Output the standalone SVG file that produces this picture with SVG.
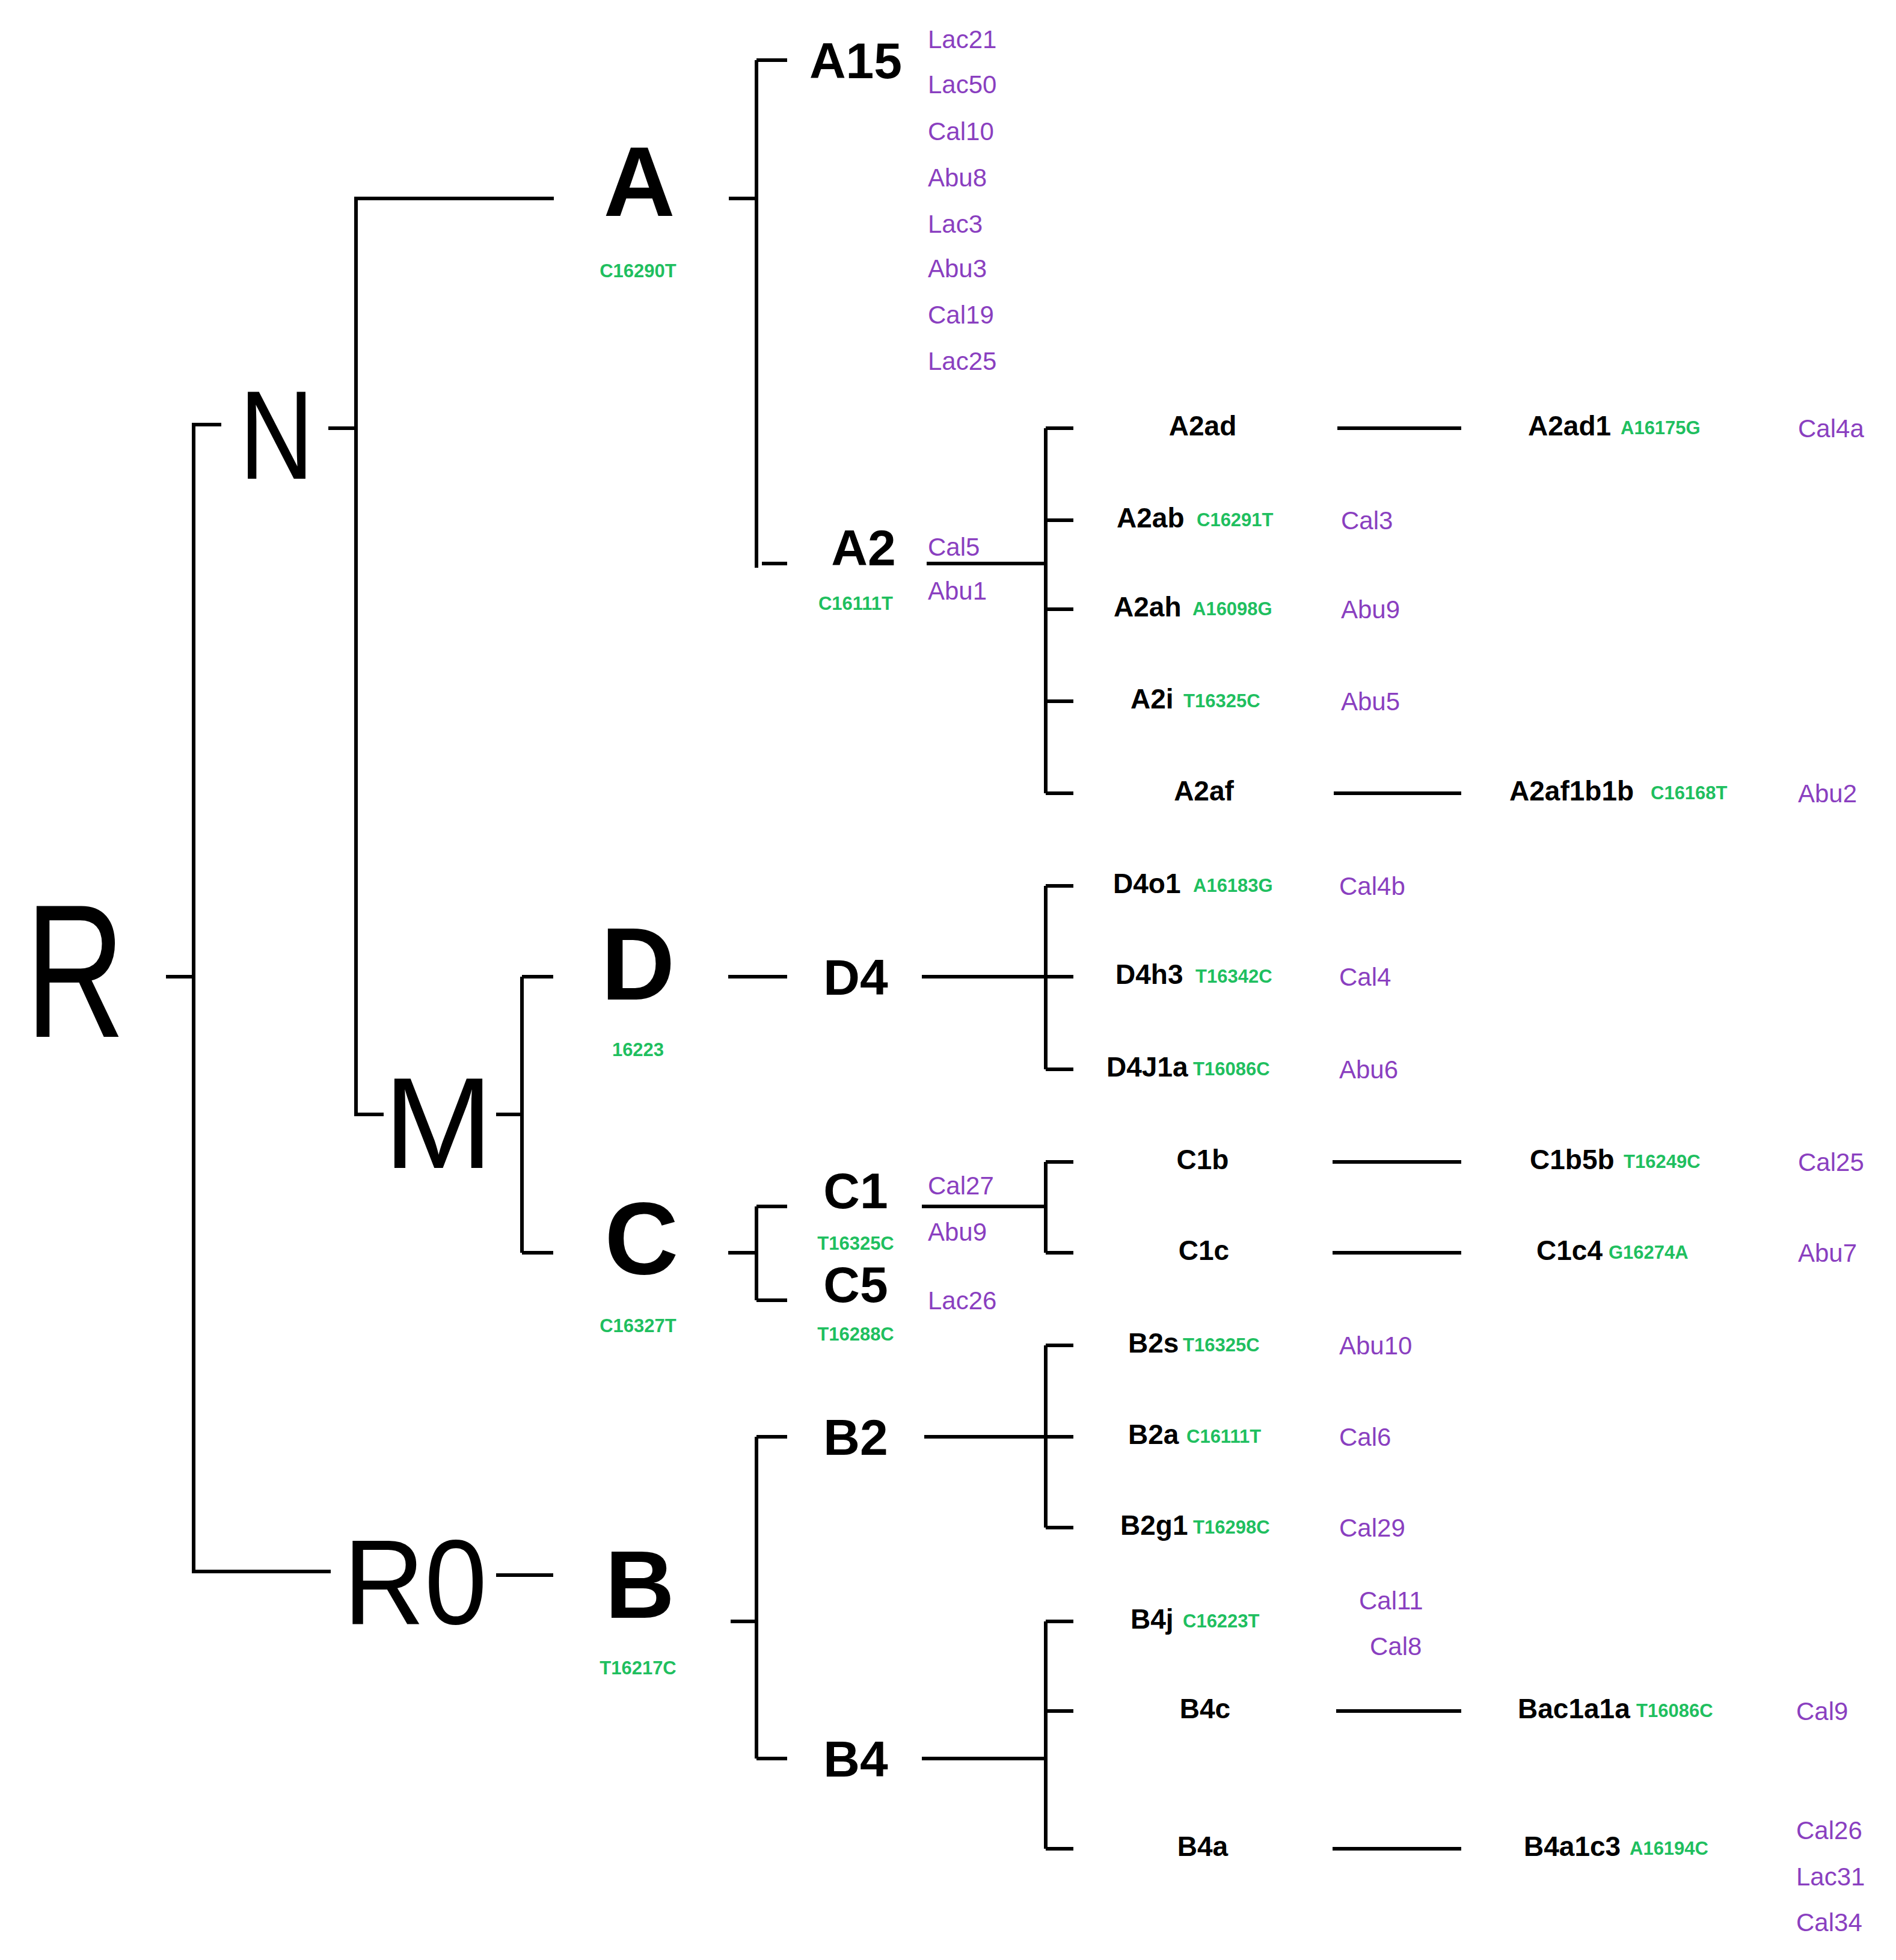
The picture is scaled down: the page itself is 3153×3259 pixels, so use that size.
<svg xmlns="http://www.w3.org/2000/svg" width="3153" height="3259" viewBox="0 0 3153 3259">
<style>
text{font-family:"Liberation Sans",Arial,sans-serif}
.big{fill:#000}
.bb{fill:#000;font-weight:bold;text-anchor:middle}
.lb{font-size:84px;font-weight:bold;fill:#000;text-anchor:middle}
.sm{font-size:46px;font-weight:bold;fill:#000}
.g{font-size:31px;font-weight:bold;fill:#1fbf5f}
.p{font-size:42px;fill:#8a3fc0}
.c{text-anchor:middle}
#connectors path{stroke:#000;stroke-width:6;fill:none}
</style>
<rect width="3153" height="3259" fill="#fff"/>
<g id="connectors">
<path d="M276 1624H322V706H368M322 1624V2613H550"/>
<path d="M546 712H592V330H921M592 712V1853H638"/>
<path d="M1212 330H1258M1258 100H1309M1258 100V944M1267 937H1309"/>
<path d="M1541 937H1739M1739 712V1319M1739 712H1785M1739 865H1785M1739 1013H1785M1739 1166H1785M1739 1319H1785"/>
<path d="M2224 712H2430M2218 1319H2430"/>
<path d="M825 1853H868M868 1624V2083M868 1624H920M868 2083H920"/>
<path d="M1211 1624H1309M1533 1624H1739M1739 1473V1778M1739 1473H1785M1739 1624H1785M1739 1778H1785"/>
<path d="M1211 2083H1258M1258 2006V2162M1258 2006H1309M1258 2162H1309M1533 2006H1739M1739 1932V2083M1739 1932H1785M1739 2083H1785M2216 1932H2430M2216 2083H2430"/>
<path d="M825 2619H920M1215 2696H1258M1258 2389V2924M1258 2389H1309M1258 2924H1309"/>
<path d="M1537 2389H1739M1739 2237V2540M1739 2237H1785M1739 2389H1785M1739 2540H1785"/>
<path d="M1533 2924H1739M1739 2696V3074M1739 2696H1785M1739 2845H1785M1739 3074H1785M2222 2845H2430M2216 3074H2430"/>
</g>
<g id="R"><text x="42" y="1724" font-size="316" class="big" textLength="166" lengthAdjust="spacingAndGlyphs">R</text></g>
<g id="N"><text x="398" y="796" font-size="210" class="big" textLength="124" lengthAdjust="spacingAndGlyphs">N</text></g>
<g id="M"><text x="638" y="1942" font-size="216" class="big" textLength="182" lengthAdjust="spacingAndGlyphs">M</text></g>
<g id="R0"><text x="571" y="2700" font-size="200" class="big" textLength="239" lengthAdjust="spacingAndGlyphs">R0</text></g>
<g id="A"><text x="1063" y="359" font-size="165" class="bb">A</text><text x="1061" y="461" class="g c">C16290T</text></g>
<g id="D"><text x="1061" y="1662" font-size="170" class="bb">D</text><text x="1061" y="1756" class="g c">16223</text></g>
<g id="C"><text x="1067" y="2118" font-size="170" class="bb">C</text><text x="1061" y="2215" class="g c">C16327T</text></g>
<g id="B"><text x="1064" y="2690" font-size="160" class="bb">B</text><text x="1061" y="2784" class="g c">T16217C</text></g>
<g id="A15"><text x="1423" y="130" class="lb">A15</text>
<text x="1543" y="80" class="p">Lac21</text><text x="1543" y="155" class="p">Lac50</text><text x="1543" y="233" class="p">Cal10</text><text x="1543" y="310" class="p">Abu8</text><text x="1543" y="387" class="p">Lac3</text><text x="1543" y="461" class="p">Abu3</text><text x="1543" y="538" class="p">Cal19</text><text x="1543" y="615" class="p">Lac25</text></g>
<g id="A2"><text x="1436" y="940" class="lb">A2</text><text x="1423" y="1014" class="g c">C16111T</text><text x="1543" y="924" class="p">Cal5</text><text x="1543" y="997" class="p">Abu1</text></g>
<g id="A2ad"><text x="2000" y="724" class="sm c">A2ad</text></g>
<g id="A2ad1"><text x="2541" y="724" class="sm">A2ad1</text><text x="2695" y="722" class="g">A16175G</text><text x="2990" y="727" class="p">Cal4a</text></g>
<g id="A2ab"><text x="1857" y="877" class="sm">A2ab</text><text x="1990" y="875" class="g">C16291T</text><text x="2230" y="880" class="p">Cal3</text></g>
<g id="A2ah"><text x="1852" y="1025" class="sm">A2ah</text><text x="1983" y="1023" class="g">A16098G</text><text x="2230" y="1028" class="p">Abu9</text></g>
<g id="A2i"><text x="1880" y="1178" class="sm">A2i</text><text x="1968" y="1176" class="g">T16325C</text><text x="2230" y="1181" class="p">Abu5</text></g>
<g id="A2af"><text x="2002" y="1331" class="sm c">A2af</text></g>
<g id="A2af1b1b"><text x="2510" y="1331" class="sm">A2af1b1b</text><text x="2745" y="1329" class="g">C16168T</text><text x="2990" y="1334" class="p">Abu2</text></g>
<g id="D4"><text x="1423" y="1654" class="lb">D4</text></g>
<g id="D4o1"><text x="1851" y="1485" class="sm">D4o1</text><text x="1984" y="1483" class="g">A16183G</text><text x="2227" y="1488" class="p">Cal4b</text></g>
<g id="D4h3"><text x="1855" y="1636" class="sm">D4h3</text><text x="1988" y="1634" class="g">T16342C</text><text x="2227" y="1639" class="p">Cal4</text></g>
<g id="D4J1a"><text x="1840" y="1790" class="sm">D4J1a</text><text x="1984" y="1788" class="g">T16086C</text><text x="2227" y="1793" class="p">Abu6</text></g>
<g id="C1"><text x="1423" y="2009" class="lb">C1</text><text x="1423" y="2078" class="g c">T16325C</text><text x="1543" y="1986" class="p">Cal27</text><text x="1543" y="2063" class="p">Abu9</text></g>
<g id="C5"><text x="1423" y="2165" class="lb">C5</text><text x="1423" y="2229" class="g c">T16288C</text><text x="1543" y="2177" class="p">Lac26</text></g>
<g id="C1b"><text x="2000" y="1944" class="sm c">C1b</text></g>
<g id="C1b5b"><text x="2544" y="1944" class="sm">C1b5b</text><text x="2700" y="1942" class="g">T16249C</text><text x="2990" y="1947" class="p">Cal25</text></g>
<g id="C1c"><text x="2002" y="2095" class="sm c">C1c</text></g>
<g id="C1c4"><text x="2555" y="2095" class="sm">C1c4</text><text x="2675" y="2093" class="g">G16274A</text><text x="2990" y="2098" class="p">Abu7</text></g>
<g id="B2"><text x="1423" y="2419" class="lb">B2</text></g>
<g id="B2s"><text x="1876" y="2249" class="sm">B2s</text><text x="1967" y="2247" class="g">T16325C</text><text x="2227" y="2252" class="p">Abu10</text></g>
<g id="B2a"><text x="1876" y="2401" class="sm">B2a</text><text x="1973" y="2399" class="g">C16111T</text><text x="2227" y="2404" class="p">Cal6</text></g>
<g id="B2g1"><text x="1863" y="2552" class="sm">B2g1</text><text x="1984" y="2550" class="g">T16298C</text><text x="2227" y="2555" class="p">Cal29</text></g>
<g id="B4"><text x="1423" y="2954" class="lb">B4</text></g>
<g id="B4j"><text x="1880" y="2708" class="sm">B4j</text><text x="1967" y="2706" class="g">C16223T</text><text x="2260" y="2676" class="p">Cal11</text><text x="2278" y="2752" class="p">Cal8</text></g>
<g id="B4c"><text x="2004" y="2857" class="sm c">B4c</text></g>
<g id="Bac1a1a"><text x="2524" y="2857" class="sm">Bac1a1a</text><text x="2721" y="2855" class="g">T16086C</text><text x="2987" y="2860" class="p">Cal9</text></g>
<g id="B4a"><text x="2000" y="3086" class="sm c">B4a</text></g>
<g id="B4a1c3"><text x="2534" y="3086" class="sm">B4a1c3</text><text x="2710" y="3084" class="g">A16194C</text><text x="2987" y="3058" class="p">Cal26</text><text x="2987" y="3135" class="p">Lac31</text><text x="2987" y="3211" class="p">Cal34</text></g>
</svg>
